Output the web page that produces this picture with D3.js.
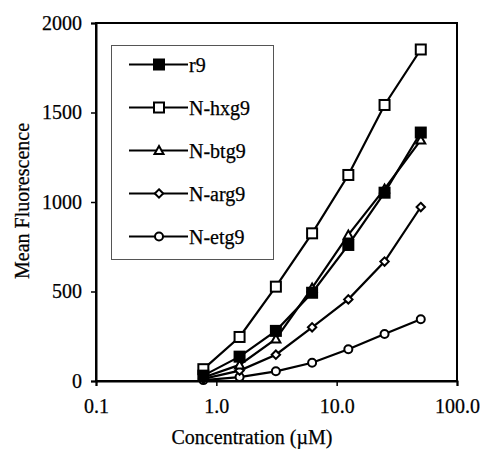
<!DOCTYPE html>
<html><head><meta charset="utf-8">
<script src="https://cdn.jsdelivr.net/npm/d3@7"></script>
<style>body{margin:0;background:#fff}svg{display:block}</style>
</head><body><svg id="c" width="481" height="449"></svg>
<script>
const concentrations = [0.78, 1.56, 3.125, 6.25, 12.5, 25, 50];
const seriesNames = ["r9", "N-hxg9", "N-btg9", "N-arg9", "N-etg9"];
const r9 = [30, 136, 280, 493, 760, 1052, 1388];
const nHxg9 = [66, 246, 527, 825, 1151, 1542, 1852];
const nBtg9 = [20, 90, 235, 520, 816, 1073, 1346];
const nArg9 = [12, 58, 147, 300, 456, 667, 972];
const nEtg9 = [5, 22, 54, 102, 177, 263, 345];
const xTicks = [0.1, 1, 10, 100];
const xTickLabels = ["0.1", "1.0", "10.0", "100.0"];
const yTicks = [0, 500, 1000, 1500, 2000];
const markers = ["filledSquare", "square", "triangle", "diamond", "circle"];

const FONT = "'Liberation Serif', 'Times New Roman', serif";
const series = [r9, nHxg9, nBtg9, nArg9, nEtg9];
const svg = d3.select("#c");
const x = d3.scaleLog().domain([0.1, 100]).range([96, 457]);
const y = d3.scaleLinear().domain([0, 2000]).range([381, 23]);

function styleText(sel) {
  return sel.style("font-family", FONT).style("font-size", "20px").style("fill", "#000")
    .style("stroke", "#000").style("stroke-width", "0.25px");
}

// frame
svg.append("rect").attr("x", 96).attr("y", 23).attr("width", 361).attr("height", 358)
  .attr("fill", "none").attr("stroke", "#000").attr("stroke-width", 2);

const yAxis = svg.append("g").attr("transform", "translate(96,0)")
  .call(d3.axisLeft(y).tickValues(yTicks).tickFormat(d3.format("d")).tickSizeOuter(0).tickSize(5).tickPadding(9));
const xAxis = svg.append("g").attr("transform", "translate(0,381)")
  .call(d3.axisBottom(x).tickValues(xTicks).tickFormat((d,i)=>xTickLabels[i]).tickSizeOuter(0).tickSize(5).tickPadding(13));
[yAxis, xAxis].forEach(a=>{
  a.attr("font-family", null).attr("font-size", null);
  a.select(".domain").attr("stroke-width", 2);
  a.selectAll(".tick line").attr("stroke-width", 1.5);
  styleText(a.selectAll("text"));
});

styleText(svg.append("text").attr("x", 252).attr("y", 444).attr("text-anchor", "middle")
  .text("Concentration (\u00b5M)"));
styleText(svg.append("text").attr("transform", "translate(29,201) rotate(-90)").attr("text-anchor", "middle")
  .text("Mean Fluorescence"));

function drawMarker(g, type, cx, cy) {
  const sw = 2;
  if (type === "filledSquare") g.append("rect").attr("x", cx-5).attr("y", cy-5).attr("width", 10).attr("height", 10).attr("fill", "#000").attr("stroke", "#000").attr("stroke-width", sw);
  else if (type === "square") g.append("rect").attr("x", cx-5).attr("y", cy-5).attr("width", 10).attr("height", 10).attr("fill", "#fff").attr("stroke", "#000").attr("stroke-width", sw);
  else if (type === "triangle") g.append("path").attr("d", `M${cx},${cy-4.5}L${cx+4.5},${cy+3.5}L${cx-4.5},${cy+3.5}Z`).attr("fill", "#fff").attr("stroke", "#000").attr("stroke-width", sw);
  else if (type === "diamond") g.append("path").attr("d", `M${cx},${cy-4.2}L${cx+4.2},${cy}L${cx},${cy+4.2}L${cx-4.2},${cy}Z`).attr("fill", "#fff").attr("stroke", "#000").attr("stroke-width", sw);
  else g.append("circle").attr("cx", cx).attr("cy", cy).attr("r", 4).attr("fill", "#fff").attr("stroke", "#000").attr("stroke-width", sw);
}

const line = d3.line().x((d,i)=>x(concentrations[i])).y(d=>y(d));
for (let s = series.length-1; s >= 0; s--) {
  const g = svg.append("g");
  g.append("path").attr("d", line(series[s])).attr("fill", "none").attr("stroke", "#000").attr("stroke-width", 2.2);
  series[s].forEach((v,i)=>drawMarker(g, markers[s], x(concentrations[i]), y(v)));
}

// legend
const lg = svg.append("g");
lg.append("rect").attr("x", 111.5).attr("y", 45.5).attr("width", 162).attr("height", 214)
  .attr("fill", "#fff").attr("stroke", "#555").attr("stroke-width", 1);
seriesNames.forEach((n,i)=>{
  const ly = 64.5 + i*43;
  lg.append("line").attr("x1", 129).attr("x2", 188).attr("y1", ly).attr("y2", ly).attr("stroke", "#000").attr("stroke-width", 2.2);
  drawMarker(lg, markers[i], 159, ly);
  styleText(lg.append("text").attr("x", 189).attr("y", ly).attr("dy", "0.35em").text(n));
});
</script></body></html>
